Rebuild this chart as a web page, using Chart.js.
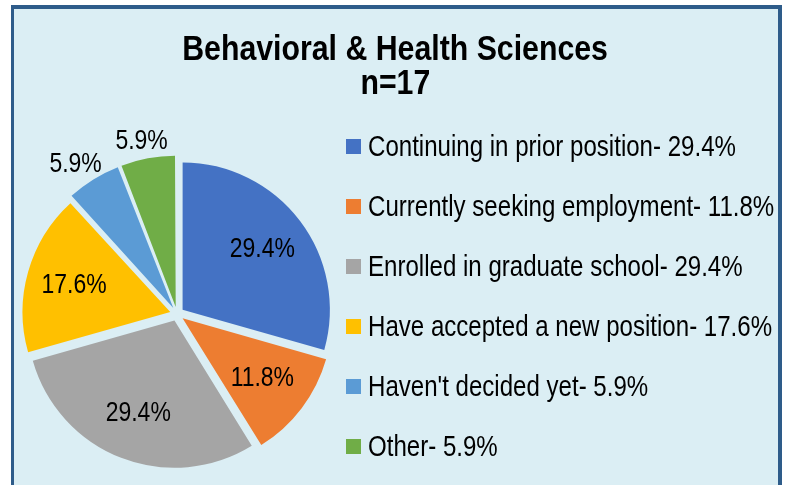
<!DOCTYPE html>
<html>
<head>
<meta charset="utf-8">
<script src="https://cdn.jsdelivr.net/npm/chart.js@4.4.1/dist/chart.umd.min.js"></script>
<style>
  html, body { margin: 0; padding: 0; background: #ffffff; width: 786px; height: 485px; overflow: hidden; }
  body { position: relative; font-family: "Liberation Sans", Arial, sans-serif; color: #000; }
  #frame { position: absolute; left: 11px; top: 5px; width: 771px; height: 520px; box-sizing: border-box;
           border: 4px solid #2E5C8A; border-left-width: 3px; background: #DBEEF4; }
  #chart { position: absolute; left: 0; top: 0; }
  #title { position: absolute; left: 0; top: 31px; width: 790px; text-align: center; font-weight: bold;
           font-size: 35px; line-height: 34px; }
  #title span { display: inline-block; transform: scaleX(0.865); transform-origin: center center; white-space: nowrap; }
  #legend { position: absolute; left: 346px; top: 116px; }
  .row { display: flex; align-items: center; height: 60px; font-size: 29px; line-height: 29px; white-space: nowrap; }
  .row span { display: inline-block; transform: scaleX(0.83); transform-origin: left center; }
  .sw { width: 15px; height: 15px; margin-right: 7px; flex: none; }
</style>
</head>
<body>
<div id="frame"></div>
<canvas id="chart" width="786" height="485"></canvas>
<div id="title"></div>
<div id="legend"></div>
<script>
const titleLines = ['Behavioral & Health Sciences', 'n=17'];
const categories = ['Continuing in prior position', 'Currently seeking employment', 'Enrolled in graduate school',
                    'Have accepted a new position', "Haven't decided yet", 'Other'];
const values = [29.4, 11.8, 29.4, 17.6, 5.9, 5.9];
const colors = ['#4472C4', '#ED7D31', '#A5A5A5', '#FFC000', '#5B9BD5', '#70AD47'];
const labelOutside = [false, false, false, false, true, true];

const FONT = '"Liberation Sans", Arial, sans-serif';
const NARROW = 0.82;

const titleEl = document.getElementById('title');
titleLines.forEach((t, i) => {
  if (i > 0) titleEl.appendChild(document.createElement('br'));
  const s = document.createElement('span');
  s.textContent = t;
  titleEl.appendChild(s);
});
const legendEl = document.getElementById('legend');
categories.forEach((c, i) => {
  const row = document.createElement('div');
  row.className = 'row';
  const sw = document.createElement('div');
  sw.className = 'sw';
  sw.style.background = colors[i];
  const tx = document.createElement('span');
  tx.textContent = c + '- ' + values[i].toFixed(1) + '%';
  row.appendChild(sw); row.appendChild(tx);
  legendEl.appendChild(row);
});

const sliceLabels = {
  id: 'sliceLabels',
  afterDatasetsDraw(chart) {
    const meta = chart.getDatasetMeta(0);
    const ctx = chart.ctx;
    ctx.save();
    ctx.font = '28px ' + FONT;
    ctx.fillStyle = '#000';
    ctx.textAlign = 'center';
    ctx.textBaseline = 'middle';
    meta.data.forEach((arc, i) => {
      const p = arc.getProps(['x', 'y', 'startAngle', 'endAngle', 'outerRadius'], true);
      const mid = (p.startAngle + p.endAngle) / 2;
      const shift = (arc.options.offset || 0) / 4;
      const cx = p.x + Math.cos(mid) * shift;
      const cy = p.y + Math.sin(mid) * shift;
      const txt = values[i].toFixed(1) + '%';
      const ux = Math.cos(mid), uy = Math.sin(mid);
      let tx, ty;
      if (labelOutside[i]) {
        const w = ctx.measureText(txt).width * NARROW, h = 20;
        const d = p.outerRadius + 12;
        tx = cx + ux * d + ux * w / 2;
        ty = cy + uy * d + uy * h / 2;
      } else {
        const d = p.outerRadius * 0.68;
        tx = cx + ux * d;
        ty = cy + uy * d;
      }
      ctx.save();
      ctx.translate(tx, ty);
      ctx.scale(NARROW, 1);
      ctx.fillText(txt, 0, 0);
      ctx.restore();
    });
    ctx.restore();
  }
};

new Chart(document.getElementById('chart'), {
  type: 'pie',
  data: {
    labels: categories,
    datasets: [{
      data: values,
      backgroundColor: colors,
      borderWidth: 0,
      offset: 28,
      radius: 147,
      clip: false
    }]
  },
  options: {
    responsive: false,
    animation: false,
    events: [],
    layout: { padding: { left: 0, right: 432, top: 143, bottom: 0 } },
    plugins: {
      legend: { display: false },
      title: { display: false },
      tooltip: { enabled: false }
    }
  },
  plugins: [sliceLabels]
});
</script>
</body>
</html>
